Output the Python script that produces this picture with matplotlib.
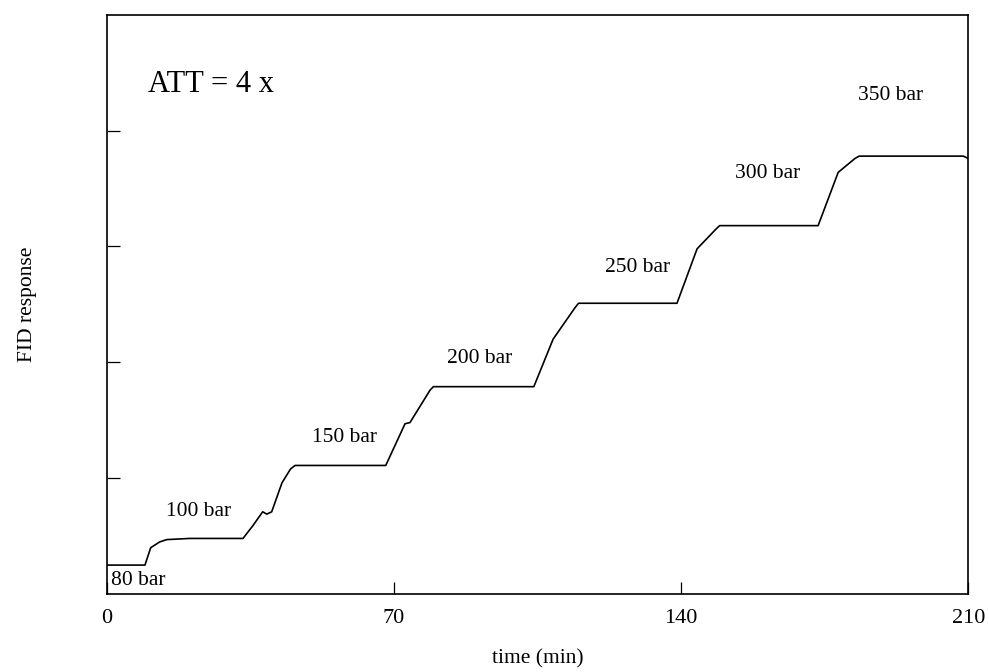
import matplotlib
matplotlib.use("Agg")
import matplotlib.pyplot as plt

# FID response trace (time in min, response in tick divisions)
time_min = [0.0, 9.3, 10.7, 12.9, 14.6, 20.2, 33.2, 35.6, 38.0, 39.0, 40.2, 42.7,
            44.8, 45.9, 68.0, 72.7, 73.9, 74.6, 78.8, 79.6, 104.1, 108.8, 114.1,
            115.0, 139.0, 143.9, 148.5, 149.4, 173.4, 178.3, 182.4, 183.4, 208.8, 210.0]
response = [0.25, 0.25, 0.40, 0.45, 0.47, 0.48, 0.48, 0.59, 0.71, 0.69, 0.71, 0.96,
            1.08, 1.11, 1.11, 1.47, 1.48, 1.52, 1.76, 1.79, 1.79, 2.20, 2.47,
            2.51, 2.51, 2.98, 3.15, 3.18, 3.18, 3.64, 3.76, 3.78, 3.78, 3.76]

pressure_labels = ["80 bar", "100 bar", "150 bar", "200 bar", "250 bar", "300 bar", "350 bar"]
label_x = [1.0, 22.4, 58.0, 91.0, 129.5, 161.0, 191.0]
label_y = [0.12, 0.71, 1.35, 2.03, 2.82, 3.63, 4.30]

x_ticks = [0, 70, 140, 210]
y_ticks = [1, 2, 3, 4]

plt.rcParams['font.family'] = ['Liberation Serif', 'DejaVu Serif']

fig = plt.figure(figsize=(9.89, 6.72), dpi=100)
ax = fig.add_axes([0.108, 0.116, 0.871, 0.862])

ax.plot(time_min, response, color='black', lw=1.2)

ax.set_xlim(0, 210)
ax.set_ylim(0, 5)
ax.set_xticks(x_ticks)
ax.set_xticklabels([str(v) for v in x_ticks], fontsize=16)
ax.set_yticks(y_ticks)
ax.set_yticklabels([])
ax.tick_params(axis='x', direction='in', length=9, width=0.9, pad=11)
ax.tick_params(axis='y', direction='in', length=9, width=0.9)
for s in ax.spines.values():
    s.set_linewidth(1.2)

for i, (lab, lx, ly) in enumerate(zip(pressure_labels, label_x, label_y)):
    ax.text(lx, ly, lab, fontsize=15.5, ha='left' if i == 0 else 'center', va='center')

ax.text(10.0, 4.40, "ATT = 4 x", fontsize=22, ha='left', va='center')

ax.set_xlabel("time (min)", fontsize=15.5, labelpad=15)
ax.set_ylabel("FID response", fontsize=15.5, labelpad=47)

fig.savefig("out.png", dpi=100)
